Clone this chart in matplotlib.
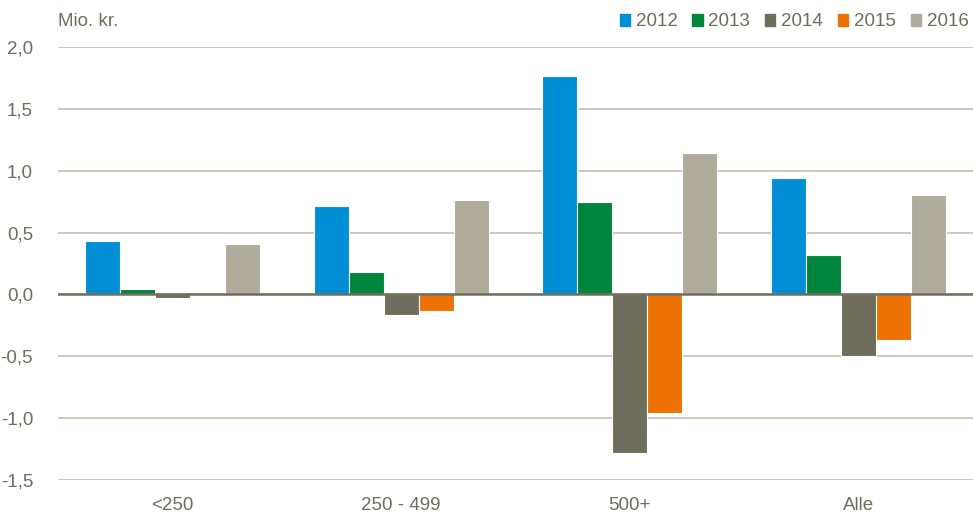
import numpy as np
import matplotlib
matplotlib.use('Agg')
import matplotlib.pyplot as plt
from matplotlib.patches import Patch

# data
categories = ['<250', '250 - 499', '500+', 'Alle']
years = ['2012', '2013', '2014', '2015', '2016']
v2012 = [0.435, 0.715, 1.765, 0.945]
v2013 = [0.045, 0.185, 0.75, 0.315]
v2014 = [-0.025, -0.17, -1.28, -0.50]
v2015 = [0.004, -0.13, -0.955, -0.365]
v2016 = [0.405, 0.765, 1.14, 0.80]
yticks = [-1.5, -1.0, -0.5, 0.0, 0.5, 1.0, 1.5, 2.0]

series = [v2012, v2013, v2014, v2015, v2016]
colors = ['#008FD5', '#00853C', '#6F6E5C', '#EE7203', '#AFAC9C']
txt = '#6F6E5C'

plt.rcParams['font.family'] = ['Liberation Sans Narrow', 'Liberation Sans', 'DejaVu Sans']
fs = 13.5

fig = plt.figure(figsize=(9.73, 5.15), dpi=100)
ax = fig.add_axes([58 / 973, 35 / 515, 915 / 973, 433 / 515])

x = np.arange(len(categories))
w = 0.153
for i, vals in enumerate(series):
    ax.bar(x + (i - 2) * w, vals, width=w, color=colors[i],
           edgecolor='white', linewidth=0.8, zorder=3)

ax.set_xlim(-0.5, 3.5)
ax.set_ylim(-1.5, 2.0)
ax.set_yticks(yticks)
ax.set_yticklabels([('%.1f' % t).replace('.', ',') for t in yticks])
ax.set_xticks(x)
ax.set_xticklabels(categories)
ax.grid(axis='y', color='#C8C6B8', linewidth=1.3, zorder=0)
ax.axhline(0, color='#706F5F', linewidth=1.8, zorder=4)
for s in ax.spines.values():
    s.set_visible(False)
ax.tick_params(axis='both', length=0, labelsize=fs, colors=txt)
ax.tick_params(axis='y', pad=18)
ax.tick_params(axis='x', pad=12)

fig.text(58 / 973, 1 - 22 / 515, 'Mio. kr.', fontsize=fs, color=txt,
         va='center', ha='left')

handles = [Patch(color=c, label=y) for c, y in zip(colors, years)]
leg = fig.legend(handles=handles, loc='center right', bbox_to_anchor=(1.003, 1 - 22 / 515),
                 ncol=5, frameon=False, fontsize=fs, handlelength=0.55, handleheight=0.55,
                 handletextpad=0.3, columnspacing=0.8, borderaxespad=0)
for t in leg.get_texts():
    t.set_color(txt)

fig.savefig('out.png', dpi=100)
